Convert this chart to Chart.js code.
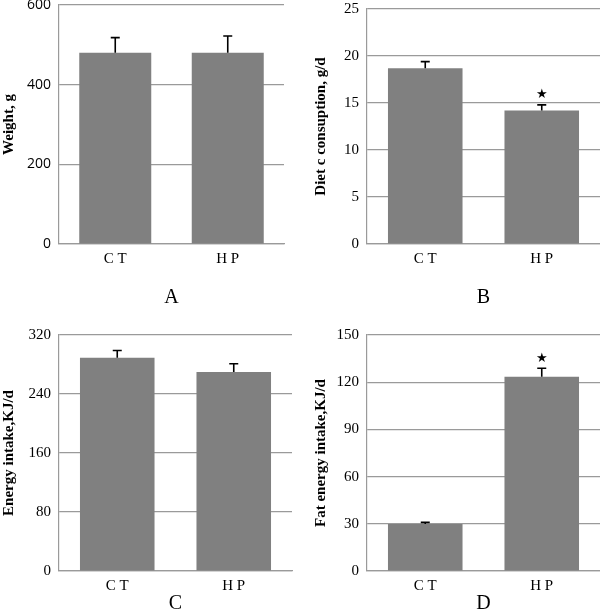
<!DOCTYPE html>
<html>
<head>
<meta charset="utf-8">
<script src="https://cdn.jsdelivr.net/npm/chart.js@4/dist/chart.umd.min.js"></script>
<style>
html,body{margin:0;padding:0;background:#fff;}
#wrap{position:relative;width:600px;height:616px;}
.pane{position:absolute;}
</style>
</head>
<body>
<div id="wrap">
  <div class="pane" style="left:0;top:0;width:300px;height:310px"><canvas id="cA"></canvas></div>
  <div class="pane" style="left:300px;top:0;width:300px;height:310px"><canvas id="cB"></canvas></div>
  <div class="pane" style="left:0;top:310px;width:300px;height:306px"><canvas id="cC"></canvas></div>
  <div class="pane" style="left:300px;top:310px;width:300px;height:306px"><canvas id="cD"></canvas></div>
</div>
<script>
// ---- data ----
const categories = ['C T', 'H P'];

const weightValues = [480, 480];
const weightErrors = [38, 42];
const weightMarks = ['', ''];
const weightTicks = [0, 200, 400, 600];

const dietValues = [18.7, 14.2];
const dietErrors = [0.7, 0.6];
const dietMarks = ['', '★'];
const dietTicks = [0, 5, 10, 15, 20, 25];

const energyValues = [289, 270];
const energyErrors = [10, 11];
const energyMarks = ['', ''];
const energyTicks = [0, 80, 160, 240, 320];

const fatValues = [29.8, 123.5];
const fatErrors = [1.1, 5.4];
const fatMarks = ['', '★'];
const fatTicks = [0, 30, 60, 90, 120, 150];

const panelTitles = ['Weight, g', 'Diet c consuption, g/d', 'Energy intake,KJ/d', 'Fat energy intake,KJ/d'];
const panelLetters = ['A', 'B', 'C', 'D'];

// ---- error bar + marker plugin ----
const errorPlugin = {
  id: 'errorBars',
  afterDatasetsDraw(chart, args, opts) {
    const ctx = chart.ctx;
    const yScale = chart.scales.y;
    const meta = chart.getDatasetMeta(0);
    const ds = chart.data.datasets[0];
    ctx.save();
    meta.data.forEach((bar, i) => {
      const v = ds.data[i];
      const e = opts.errors[i];
      const yTop = yScale.getPixelForValue(v + e);
      const yBar = yScale.getPixelForValue(v);
      ctx.strokeStyle = '#000';
      ctx.lineWidth = 1.6;
      ctx.beginPath();
      ctx.moveTo(bar.x, yBar);
      ctx.lineTo(bar.x, yTop);
      ctx.moveTo(bar.x - 4.5, yTop);
      ctx.lineTo(bar.x + 4.5, yTop);
      ctx.stroke();
      const m = opts.marks[i];
      if (m) {
        ctx.fillStyle = '#000';
        ctx.font = '13px "DejaVu Sans"';
        ctx.textAlign = 'center';
        ctx.textBaseline = 'middle';
        ctx.fillText(m, bar.x, yTop - 10);
      }
    });
    ctx.restore();
  }
};

function makeChart(id, values, errors, marks, ticks, title, letter, lay) {
  const serif = 'Liberation Serif';
  const tickFamily = lay.sansTicks ? 'Open Sans' : serif;
  return new Chart(document.getElementById(id), {
    type: 'bar',
    data: {
      labels: categories,
      datasets: [{
        data: values,
        backgroundColor: '#808080',
        borderWidth: 0,
        categoryPercentage: 1,
        barPercentage: 0.64
      }]
    },
    options: {
      responsive: true,
      maintainAspectRatio: false,
      animation: false,
      events: [],
      layout: { padding: { top: lay.top, right: lay.right, left: 0, bottom: 0 } },
      plugins: {
        legend: { display: false },
        tooltip: { enabled: false },
        errorBars: { errors: errors, marks: marks }
      },
      scales: {
        x: {
          grid: { display: false, drawTicks: false },
          border: { display: true, color: '#9a9a9a', width: 1.2 },
          ticks: { color: '#000', font: { family: serif, size: 15 }, padding: 6 },
          title: { display: true, text: letter, color: '#000', font: { family: serif, size: 20 }, padding: 0 },
          afterFit(s) { s.height = lay.xh; s.paddingLeft = 0; s.paddingRight = 0; }
        },
        y: {
          min: ticks[0],
          max: ticks[ticks.length - 1],
          afterBuildTicks(s) { s.ticks = ticks.map(v => ({ value: v })); },
          grid: { color: '#9a9a9a', lineWidth: 1.2, drawTicks: false },
          border: { display: true, color: '#9a9a9a', width: 1.2 },
          ticks: { color: '#000', font: { family: tickFamily, size: lay.sansTicks ? 14 : 15 }, padding: lay.tickPad },
          title: { display: true, text: title, color: '#000', font: { family: serif, size: 15, weight: 'bold' }, padding: { top: lay.titlePad, bottom: 0 } },
          afterFit(s) { s.width = lay.yw; s.paddingTop = 0; s.paddingBottom = 0; }
        }
      }
    },
    plugins: [errorPlugin]
  });
}

makeChart('cA', weightValues, weightErrors, weightMarks, weightTicks, panelTitles[0], panelLetters[0],
  { top: 5, right: 16, xh: 66, yw: 59, sansTicks: true, tickPad: 8, titlePad: 0 });
makeChart('cB', dietValues, dietErrors, dietMarks, dietTicks, panelTitles[1], panelLetters[1],
  { top: 9, right: 0, xh: 66, yw: 67, sansTicks: false, tickPad: 8, titlePad: 12 });
makeChart('cC', energyValues, energyErrors, energyMarks, energyTicks, panelTitles[2], panelLetters[2],
  { top: 25, right: 8, xh: 45, yw: 59, sansTicks: false, tickPad: 8, titlePad: 0 });
makeChart('cD', fatValues, fatErrors, fatMarks, fatTicks, panelTitles[3], panelLetters[3],
  { top: 25, right: 0, xh: 45, yw: 67, sansTicks: false, tickPad: 8, titlePad: 12 });
</script>
</body>
</html>
